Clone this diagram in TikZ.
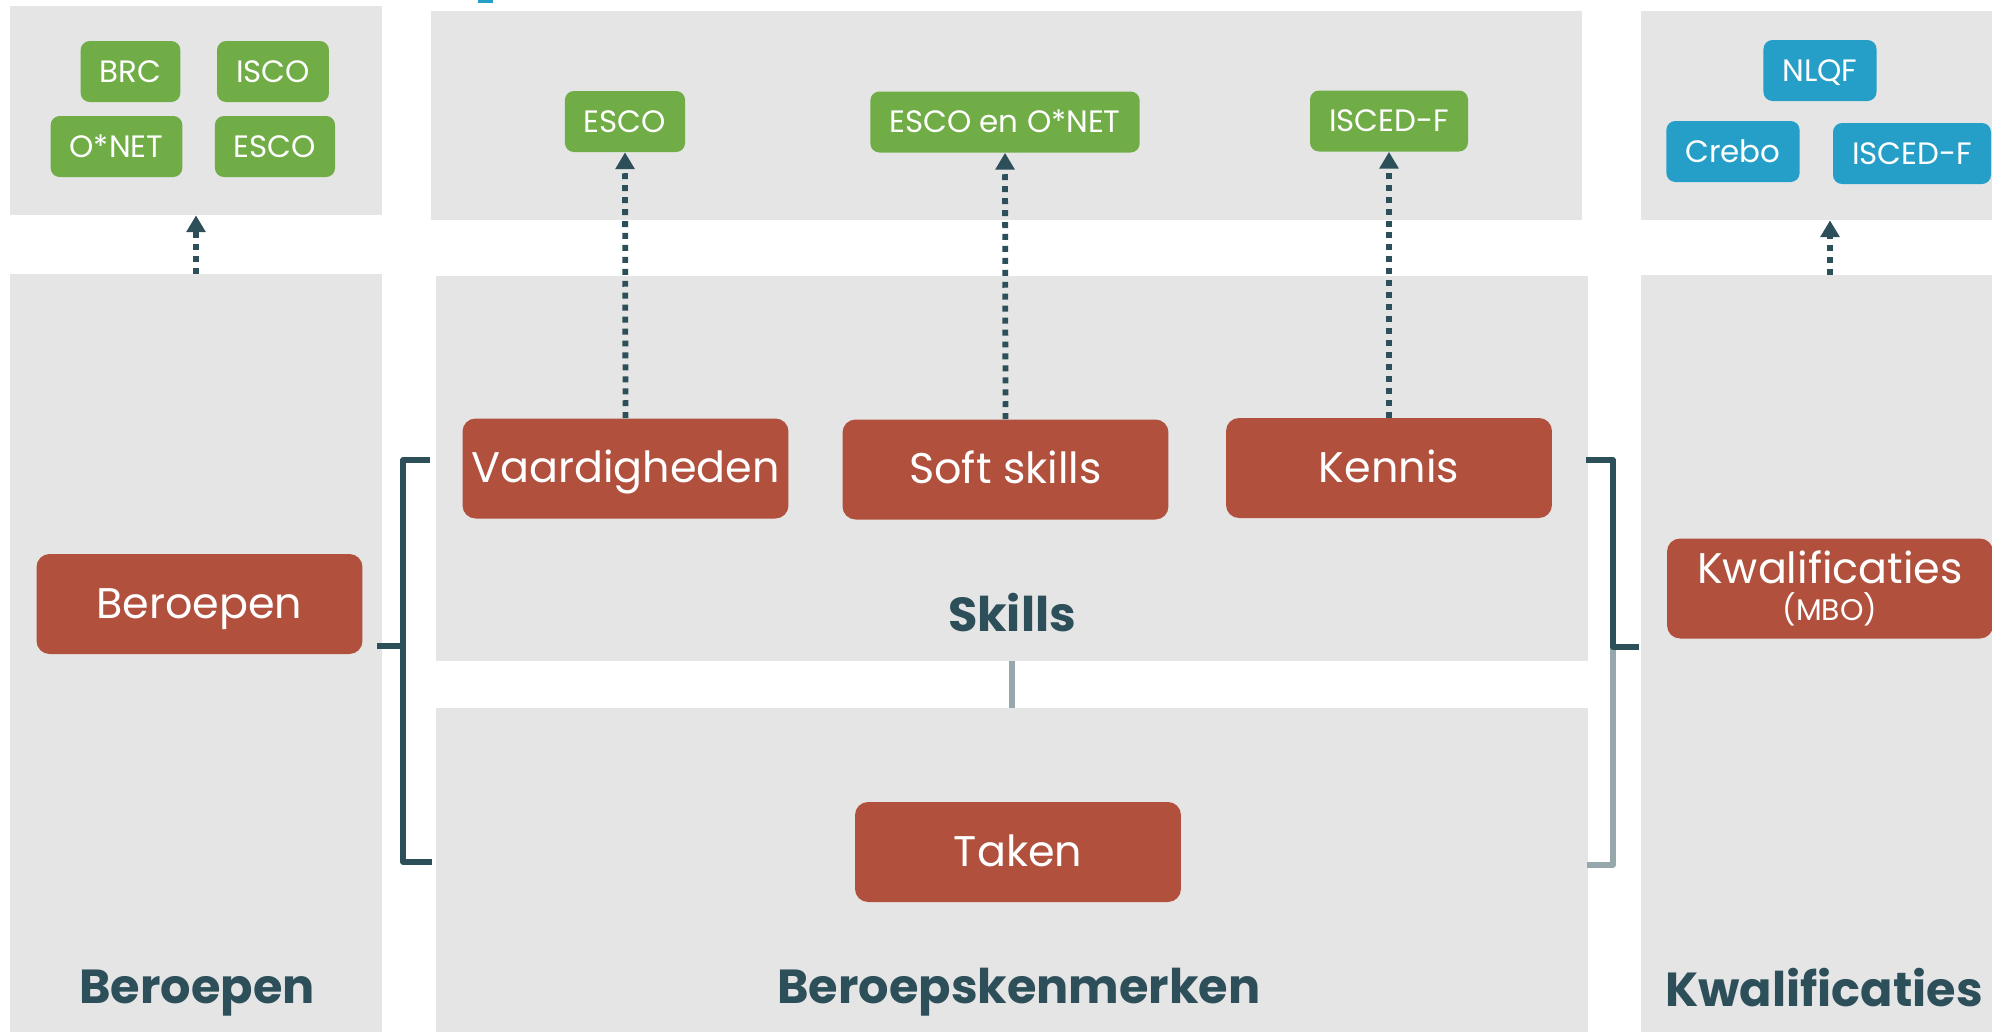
\documentclass[tikz,border=0pt]{standalone}
\usepackage{fontspec}
\setmainfont{Poppins}
\usepackage{tikz}
\usetikzlibrary{
    arrows.meta,
    fit,
    positioning
}
\definecolor{panelgrey}{HTML}{E5E5E5}
\definecolor{skillgreen}{HTML}{70AD47}
\definecolor{qualblue}{HTML}{259FC8}
\definecolor{boxred}{HTML}{B0503D}
\definecolor{darkteal}{HTML}{2C4F5A}
\definecolor{lightline}{HTML}{97A8AC}

\begin{document}
\begin{tikzpicture}[x=0.02cm, y=-0.02cm,
    panel/.style={fill=panelgrey, inner sep=0pt},
    redbox/.style={fill=boxred, text=white, rounded corners=0.26cm,
        minimum width=6.52cm, minimum height=2cm, inner sep=0pt,
        text height=16.4pt, text depth=0pt,
        font=\fontsize{24.4}{28}\selectfont},
    tagbox/.style={text=white, rounded corners=0.18cm,
        minimum height=1.22cm, inner xsep=0.38cm, inner ysep=0pt,
        text height=12pt, text depth=0pt,
        font=\fontsize{17.6}{20}\selectfont},
    greenbox/.style={tagbox, fill=skillgreen},
    bluebox/.style={tagbox, fill=qualblue},
    title/.style={text=darkteal, anchor=base,
        font=\fontsize{27.2}{32}\selectfont\bfseries},
    link/.style={draw=darkteal, line width=3.3pt,
        dash pattern=on 3.4pt off 3.4pt,
        -{Triangle[width=10.5pt,length=9.5pt]}},
    bracket/.style={draw=darkteal, line width=3.2pt, line join=round},
    bracketlight/.style={draw=lightline, line width=3.2pt, line join=round}
]
\useasboundingbox (0,0) rectangle (1992,1032);
\clip (0,0) rectangle (1992,1032);

% panels
\node[panel, fit={(10,6) (382,215)}] (berTop) {};
\node[panel, fit={(10,274) (382,1032)}] (berBot) {};
\node[panel, fit={(431,11) (1582,220)}] (skTop) {};
\node[panel, fit={(436,276) (1588,661)}] (skills) {};
\node[panel, fit={(436,708) (1588,1032)}] (kenm) {};
\node[panel, fit={(1641,11) (1992,220)}] (kwTop) {};
\node[panel, fit={(1641,275) (1992,1032)}] (kwBot) {};
\fill[qualblue] (478,0) rectangle (493,2.5);

% classifications
\node[greenbox] (brc) at (130.5, 71.5) {BRC};
\node[greenbox] (isco) at (273, 71.5) {ISCO};
\node[greenbox] (onet) at (116.5, 146.5) {O*NET};
\node[greenbox] (escoL) at (275, 146.5) {ESCO};
\node[greenbox] (escoM) at (625, 121.5) {ESCO};
\node[greenbox] (escoOnet) at (1005, 122) {ESCO en O*NET};
\node[greenbox] (iscedM) at (1389, 121) {ISCED-F};
\node[bluebox] (nlqf) at (1820, 70.5) {NLQF};
\node[bluebox] (crebo) at (1733, 151.5) {Crebo};
\node[bluebox] (iscedR) at (1912, 153.5) {ISCED-F};

% main boxes
\node[redbox] (beroep) at (199.5, 604) {Beroepen};
\node[redbox] (vaard) at (625.5, 468.5) {Vaardigheden};
\node[redbox] (soft) at (1005.5, 469.5) {Soft skills};
\node[redbox] (kennis) at (1389, 468) {Kennis};
\node[redbox] (taken) at (1018, 852) {Taken};
\node[redbox, text height=, text depth=, align=center,
    font=\fontsize{24.4}{21.5}\selectfont] (kwal) at (1830, 588.5)
    {Kwalificaties\\{\fontsize{17}{21.5}\selectfont(MBO)}};

% titles
\node[title] (tSkills) at (1012, 631) {Skills};
\node[title] (tBeroep) at (197, 1003) {Beroepen};
\node[title] (tKenm) at (1019, 1003) {Beroepskenmerken};
\node[title] (tKwal) at (1824, 1006) {Kwalificaties};

% links to classifications
\draw
    (vaard.north) edge[link] (escoM.south)
    (soft.north) edge[link] (escoOnet.south)
    (kennis.north) edge[link] (iscedM.south)
    (berBot.north) edge[link] (berTop.south)
    (kwBot.north -| kwal) edge[link] (kwTop.south -| kwal);

% brackets
\coordinate (lb1) at (430, 460);
\coordinate (lbx) at (403, 646);
\coordinate (lbm) at (377, 646);
\coordinate (lb2) at (432, 862);
\draw[bracket] (lb1) -| (lbx) |- (lb2);
\draw[bracket] (lbm) -- (lbx);

\coordinate (rb1) at (1586, 460);
\coordinate (rbx) at (1613, 647);
\coordinate (rbm) at (1639, 647);
\coordinate (rb2) at (1587, 865);
\draw[bracketlight] (rbx) |- (rb2);
\draw[bracket] (rb1) -| (rbx) -- (rbm);
\draw[bracketlight] (skills.south) -- (kenm.north);
\end{tikzpicture}
\end{document}
